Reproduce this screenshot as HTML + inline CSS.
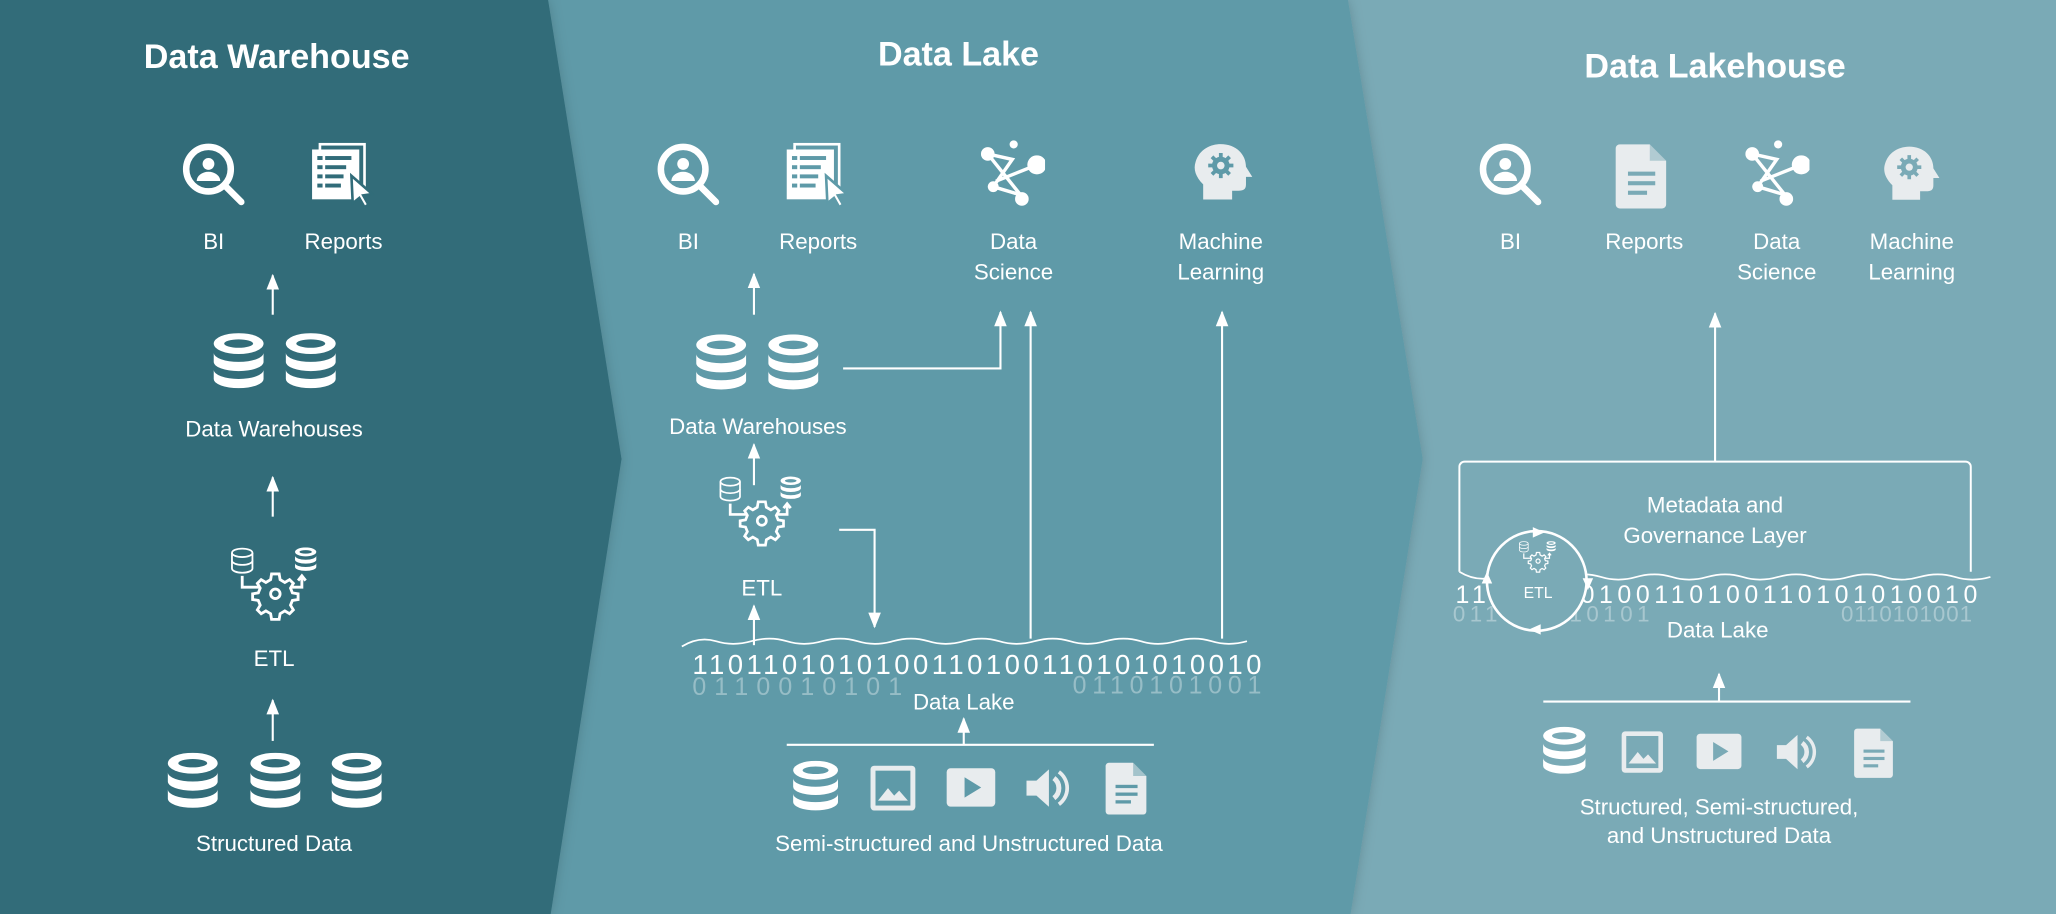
<!DOCTYPE html>
<html><head><meta charset="utf-8"><style>
html,body{margin:0;padding:0;background:#316c79}
svg{display:block}
text{font-family:"Liberation Sans",sans-serif;fill:#fff}
</style></head><body>
<svg width="2056" height="914" viewBox="0 0 1568 697" preserveAspectRatio="none" xmlns="http://www.w3.org/2000/svg">
<defs>
<filter id="sh" x="-10%" y="-10%" width="130%" height="130%"><feDropShadow dx="-4" dy="0" stdDeviation="6" flood-color="#000" flood-opacity="0.35"/></filter>
<marker id="ah" viewBox="0 0 10 8" refX="9" refY="4" markerWidth="12" markerHeight="10" markerUnits="userSpaceOnUse" orient="auto-start-reverse"><path d="M0,0 L10,4 L0,8 z" fill="#fff"/></marker>
<symbol id="db" viewBox="0 0 40 44">
 <ellipse cx="20" cy="8" rx="19" ry="8" fill="#fff"/>
 <ellipse cx="20" cy="8" rx="11" ry="3.2" fill="var(--bg)"/>
 <path d="M1,15 v7 a19,7 0 0 0 38,0 v-7 a19,7 0 0 1 -38,0 z" fill="#fff"/>
 <path d="M1,28 v7 a19,7 0 0 0 38,0 v-7 a19,7 0 0 1 -38,0 z" fill="#fff"/>
</symbol>
<symbol id="dbo" viewBox="0 0 40 44">
 <g fill="none" stroke="#fff" stroke-width="3"><ellipse cx="20" cy="9" rx="17" ry="7"/><path d="M3,9 v26 a17,7 0 0 0 34,0 v-26"/><path d="M3,22 a17,7 0 0 0 34,0"/></g>
</symbol>
<symbol id="bi" viewBox="0 0 50 50">
 <circle cx="21" cy="21" r="17" fill="none" stroke="#fff" stroke-width="5"/>
 <line x1="33" y1="33" x2="46" y2="46" stroke="#fff" stroke-width="5" stroke-linecap="round"/>
 <circle cx="21" cy="17" r="4.5" fill="#fff"/><path d="M12,30 a9,7 0 0 1 18,0 z" fill="#fff"/>
</symbol>
<symbol id="rep" viewBox="0 0 50 50">
 <rect x="8" y="2" width="34" height="38" fill="none" stroke="#fff" stroke-width="2"/>
 <rect x="2" y="6" width="36" height="38" fill="#fff"/>
 <g fill="var(--bg)"><rect x="6" y="11" width="4" height="3"/><rect x="12" y="11" width="20" height="3"/><rect x="6" y="18" width="4" height="3"/><rect x="12" y="18" width="16" height="3"/><rect x="6" y="25" width="4" height="3"/><rect x="12" y="25" width="14" height="3"/><rect x="6" y="32" width="4" height="3"/><rect x="12" y="32" width="12" height="3"/></g>
 <path d="M32,26 L48,40 L41,41 L45,48 L42,50 L38,43 L33,47 z" fill="#fff" stroke="var(--bg)" stroke-width="2"/>
</symbol>
<symbol id="ds" viewBox="0 0 50 50">
 <g stroke="#fff" stroke-width="2.5" fill="none"><path d="M8,10 L26,14 L12,34 M8,10 L32,40 M32,40 L12,34 M14,30 L44,18"/></g>
 <circle cx="8" cy="10" r="5" fill="#fff"/><circle cx="27" cy="3" r="3" fill="#fff"/><circle cx="44" cy="18" r="7" fill="#fff"/><circle cx="12" cy="34" r="4" fill="#fff"/><circle cx="33" cy="43" r="5" fill="#fff"/>
</symbol>
<symbol id="ml" viewBox="0 0 50 50">
 <path d="M10,46 v-12 c-6,-6 -8,-12 -6,-18 c3,-10 12,-14 20,-14 c12,0 20,8 20,18 l5,8 h-5 v6 c0,4 -2,5 -6,5 h-5 v7 z" fill="#e8ecee"/>
 <circle cx="24" cy="19" r="7" fill="var(--bg)"/>
 <g stroke="var(--bg)" stroke-width="3"><line x1="24" y1="9" x2="24" y2="29"/><line x1="14" y1="19" x2="34" y2="19"/><line x1="17" y1="12" x2="31" y2="26"/><line x1="31" y1="12" x2="17" y2="26"/></g>
 <circle cx="24" cy="19" r="3" fill="#e8ecee"/>
</symbol>
<symbol id="doc" viewBox="0 0 40 50">
 <path d="M3,2 h22 l12,12 v32 a3,3 0 0 1 -3,3 h-31 a3,3 0 0 1 -3,-3 v-41 a3,3 0 0 1 3,-3 z" fill="#e8ecee"/>
 <path d="M25,2 v12 h12" fill="var(--bg)" opacity="0.5"/>
 <g fill="var(--bg)"><rect x="9" y="22" width="20" height="3"/><rect x="9" y="29" width="20" height="3"/><rect x="9" y="36" width="14" height="3"/></g>
</symbol>
<symbol id="img" viewBox="0 0 40 40">
 <rect x="2" y="2" width="36" height="36" rx="3" fill="#e8ecee"/><rect x="6" y="6" width="28" height="28" fill="var(--bg)"/>
 <path d="M8,30 l8,-10 l5,6 l4,-4 l7,8 z" fill="#e8ecee"/>
</symbol>
<symbol id="play" viewBox="0 0 40 40">
 <rect x="1" y="5" width="38" height="30" rx="3" fill="#e8ecee"/><path d="M15,12 L28,20 L15,28 z" fill="var(--bg)"/>
</symbol>
<symbol id="spk" viewBox="0 0 40 40">
 <path d="M3,14 h8 l10,-9 v30 l-10,-9 h-8 z" fill="#e8ecee"/>
 <path d="M25,12 a10,10 0 0 1 0,16" stroke="#e8ecee" stroke-width="4" fill="none"/>
 <path d="M29,7 a16,16 0 0 1 0,26" stroke="#e8ecee" stroke-width="3" fill="none"/>
</symbol>
<symbol id="etl" viewBox="0 0 100 90">
 <use href="#dbo" x="2" y="2" width="26" height="28"/>
 <use href="#db" x="70" y="2" width="24" height="26"/>
 <g fill="none" stroke="#fff" stroke-width="3">
  <path d="M15,32 v12 h18"/><path d="M66,44 h12 v-10"/><path d="M74,37 l4,-5 l4,5"/>
  <path d="M50,30 l4,0 l1,6 l5,3 l5,-3 l4,4 l-3,5 l2,5 l6,1 l0,6 l-6,1 l-2,5 l3,5 l-4,4 l-5,-3 l-5,3 l-1,6 h-8 l-1,-6 l-5,-3 l-5,3 l-4,-4 l3,-5 l-2,-5 l-6,-1 v-6 l6,-1 l2,-5 l-3,-5 l4,-4 l5,3 l5,-3 l1,-6 z"/>
  <circle cx="50" cy="51" r="5"/>
 </g>
</symbol>
</defs>

<rect x="0" y="0" width="1568" height="697" fill="#7aaab6"/>
<path d="M0,0 H1028 L1085,350 L1030,697 H0 z" fill="#5e9aa8" filter="url(#sh)"/>
<path d="M0,0 H418 L474,350 L420,697 H0 z" fill="#316c79" filter="url(#sh)"/>

<!-- Panel 1 -->
<g style="--bg:#316c79">
<text x="211" y="52" font-size="26" font-weight="bold" text-anchor="middle">Data Warehouse</text>
<use href="#bi" x="138" y="108" width="50" height="50"/>
<use href="#rep" x="236" y="108" width="50" height="50"/>
<text x="163" y="190" font-size="17" text-anchor="middle">BI</text>
<text x="262" y="190" font-size="17" text-anchor="middle">Reports</text>
<line x1="208" y1="240" x2="208" y2="210" stroke="#fff" stroke-width="1.6" marker-end="url(#ah)"/>
<use href="#db" x="162" y="254" width="40" height="44"/>
<use href="#db" x="217" y="254" width="40" height="44"/>
<text x="209" y="333" font-size="17" text-anchor="middle">Data Warehouses</text>
<line x1="208" y1="394" x2="208" y2="364" stroke="#fff" stroke-width="1.6" marker-end="url(#ah)"/>
<use href="#etl" x="160" y="416" width="100" height="65"/>
<text x="209" y="508" font-size="17" text-anchor="middle">ETL</text>
<line x1="208" y1="565" x2="208" y2="534" stroke="#fff" stroke-width="1.6" marker-end="url(#ah)"/>
<use href="#db" x="127" y="574" width="40" height="44"/>
<use href="#db" x="190" y="574" width="40" height="44"/>
<use href="#db" x="252" y="574" width="40" height="44"/>
<text x="209" y="649" font-size="17" text-anchor="middle">Structured Data</text>
</g>

<!-- Panel 2 -->
<g style="--bg:#5e9aa8">
<text x="731" y="50" font-size="26" font-weight="bold" text-anchor="middle">Data Lake</text>
<use href="#bi" x="500" y="108" width="50" height="50"/>
<use href="#rep" x="598" y="108" width="50" height="50"/>
<use href="#ds" x="745" y="104" width="52" height="58"/>
<use href="#ml" x="908" y="106" width="48" height="52"/>
<text x="525" y="190" font-size="17" text-anchor="middle">BI</text>
<text x="624" y="190" font-size="17" text-anchor="middle">Reports</text>
<text x="773" y="190" font-size="17" text-anchor="middle">Data</text>
<text x="773" y="213" font-size="17" text-anchor="middle">Science</text>
<text x="931" y="190" font-size="17" text-anchor="middle">Machine</text>
<text x="931" y="213" font-size="17" text-anchor="middle">Learning</text>
<line x1="575" y1="240" x2="575" y2="209" stroke="#fff" stroke-width="1.6" marker-end="url(#ah)"/>
<use href="#db" x="530" y="255" width="40" height="44"/>
<use href="#db" x="585" y="255" width="40" height="44"/>
<polyline points="643,281 763,281 763,238" fill="none" stroke="#fff" stroke-width="1.6" marker-end="url(#ah)"/>
<line x1="786" y1="487" x2="786" y2="238" stroke="#fff" stroke-width="1.6" marker-end="url(#ah)"/>
<line x1="932" y1="487" x2="932" y2="238" stroke="#fff" stroke-width="1.6" marker-end="url(#ah)"/>
<text x="578" y="331" font-size="17" text-anchor="middle">Data Warehouses</text>
<line x1="575" y1="370" x2="575" y2="339" stroke="#fff" stroke-width="1.6" marker-end="url(#ah)"/>
<use href="#etl" x="533" y="362" width="96" height="62"/>
<polyline points="640,404 667,404 667,478" fill="none" stroke="#fff" stroke-width="1.6" marker-end="url(#ah)"/>
<text x="581" y="454" font-size="17" text-anchor="middle">ETL</text>
<line x1="575" y1="492" x2="575" y2="462" stroke="#fff" stroke-width="1.6" marker-end="url(#ah)"/>
<path d="M520,493 q13,-8 26,-4 t27,0 t27,0 t27,0 t27,0 t27,0 t27,0 t27,0 t27,0 t27,0 t27,0 t27,0 t27,0 t27,0 t27,0 t27,0" fill="none" stroke="#fff" stroke-width="1.3"/>
<text x="528" y="514" font-size="21" textLength="434" lengthAdjust="spacing">1101101010100110100110101010010</text>
<text x="528" y="530" font-size="19" opacity="0.35" textLength="160" lengthAdjust="spacing">0110010101</text>
<text x="818" y="529" font-size="19" opacity="0.35" textLength="144" lengthAdjust="spacing">0110101001</text>
<text x="735" y="541" font-size="17" text-anchor="middle">Data Lake</text>
<line x1="600" y1="568" x2="880" y2="568" stroke="#fff" stroke-width="1.6"/>
<line x1="735" y1="568" x2="735" y2="548" stroke="#fff" stroke-width="1.6" marker-end="url(#ah)"/>
<use href="#db" x="604" y="580" width="36" height="40"/>
<use href="#img" x="662" y="582" width="38" height="38"/>
<use href="#play" x="721" y="581" width="39" height="39"/>
<use href="#spk" x="780" y="582" width="38" height="38"/>
<use href="#doc" x="843" y="580" width="34" height="42"/>
<text x="739" y="649" font-size="17" text-anchor="middle">Semi-structured and Unstructured Data</text>
</g>

<!-- Panel 3 -->
<g style="--bg:#7aaab6">
<text x="1308" y="59" font-size="26" font-weight="bold" text-anchor="middle">Data Lakehouse</text>
<use href="#bi" x="1127" y="108" width="50" height="50"/>
<use href="#doc" x="1232" y="108" width="42" height="52"/>
<use href="#ds" x="1328" y="104" width="52" height="58"/>
<use href="#ml" x="1434" y="108" width="46" height="50"/>
<text x="1152" y="190" font-size="17" text-anchor="middle">BI</text>
<text x="1254" y="190" font-size="17" text-anchor="middle">Reports</text>
<text x="1355" y="190" font-size="17" text-anchor="middle">Data</text>
<text x="1355" y="213" font-size="17" text-anchor="middle">Science</text>
<text x="1458" y="190" font-size="17" text-anchor="middle">Machine</text>
<text x="1458" y="213" font-size="17" text-anchor="middle">Learning</text>
<line x1="1308" y1="352" x2="1308" y2="239" stroke="#fff" stroke-width="1.6" marker-end="url(#ah)"/>
<path d="M1113,436 V356 a4,4 0 0 1 4,-4 H1499 a4,4 0 0 1 4,4 V436" fill="none" stroke="#fff" stroke-width="1.5"/>
<path d="M1113,436 q13,8 27,4 t27,0 t27,0 t27,0 t27,0 t27,0 t27,0 t27,0 t27,0 t27,0 t27,0 t27,0 t27,0 t27,0 t27,0" fill="none" stroke="#fff" stroke-width="1.3"/>
<text x="1308" y="391" font-size="17" text-anchor="middle">Metadata and</text>
<text x="1308" y="414" font-size="17" text-anchor="middle">Governance Layer</text>
<text x="1110" y="460" font-size="19" textLength="398" lengthAdjust="spacing">11011010100110100110101010010</text>
<text x="1108" y="474" font-size="17" opacity="0.35" textLength="150" lengthAdjust="spacing">011001010101</text>
<text x="1404" y="474" font-size="17" opacity="0.35" textLength="100" lengthAdjust="spacing">0110101001</text>
<circle cx="1172" cy="443" r="38" fill="#7aaab6" stroke="#fff" stroke-width="2"/>
<path d="M1178,406 l-9,-4 v8 z M1211,450 l-4,-9 h8 z M1166,480 l9,4 v-8 z M1134,436 l4,9 h-8 z" fill="#fff"/>
<use href="#etl" x="1152" y="412" width="42" height="28"/>
<text x="1173" y="456" font-size="12" text-anchor="middle">ETL</text>
<text x="1310" y="486" font-size="17" text-anchor="middle">Data Lake</text>
<line x1="1177" y1="535" x2="1457" y2="535" stroke="#fff" stroke-width="1.6"/>
<line x1="1311" y1="535" x2="1311" y2="514" stroke="#fff" stroke-width="1.6" marker-end="url(#ah)"/>
<use href="#db" x="1176" y="554" width="34" height="38"/>
<use href="#img" x="1235" y="556" width="35" height="35"/>
<use href="#play" x="1293" y="555" width="36" height="36"/>
<use href="#spk" x="1352" y="556" width="36" height="35"/>
<use href="#doc" x="1414" y="554" width="32" height="40"/>
<text x="1311" y="621" font-size="17" text-anchor="middle">Structured, Semi-structured,</text>
<text x="1311" y="643" font-size="17" text-anchor="middle">and Unstructured Data</text>
</g>
</svg>
</body></html>
